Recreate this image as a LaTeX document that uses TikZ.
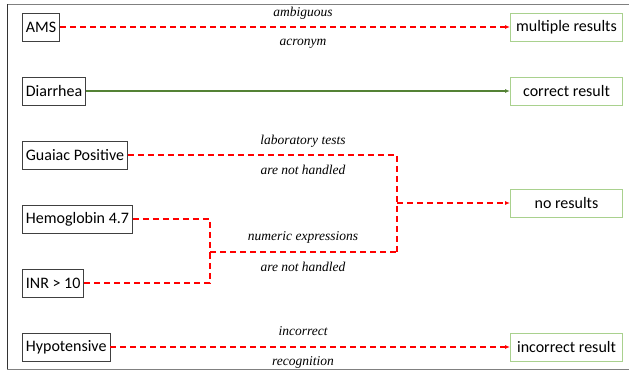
\documentclass[tikz,border=0pt]{standalone}
\usepackage{fontspec}
\setmainfont{Carlito}
\newfontfamily\lblfont{Liberation Serif}
\usetikzlibrary{arrows.meta}
\definecolor{rd}{HTML}{FF0000}
\definecolor{gl}{HTML}{548235}
\definecolor{gb}{HTML}{A9D18E}
\tikzset{
  srcbox/.style={draw=black!75, line width=0.8pt, minimum height=28pt, inner xsep=3.5pt, anchor=west, font=\fontsize{16}{18}\selectfont},
  resbox/.style={draw=gb, line width=1pt, minimum height=28pt, minimum width=112pt, anchor=west, font=\fontsize{16}{18}\selectfont},
  lbl/.style={font=\lblfont\itshape\fontsize{13.5}{15}\selectfont, inner sep=0pt},
  bad/.style={draw=rd, line width=1.6pt, dash pattern=on 6pt off 4pt},
  good/.style={draw=gl, line width=1.3pt},
  tip/.style={-{Latex[length=5pt,width=4pt]}},
}
\begin{document}
\begin{tikzpicture}[x=1pt,y=-1pt]
\useasboundingbox (0,0) rectangle (629,372);
\draw[gray, line width=1pt] (7,4) -- (629,4);
\draw[gray, line width=1pt] (7,369) -- (629,369);
\draw[black!80, line width=1pt] (7,4) -- (7,369);

\node[srcbox] (ams) at (22,27) {AMS};
\node[srcbox] (dia) at (22,91) {Diarrhea};
\node[srcbox] (gp) at (22,155) {Guaiac Positive};
\node[srcbox] (hb) at (22,219) {Hemoglobin 4.7};
\node[srcbox] (inr) at (22,283) {INR > 10};
\node[srcbox] (hy) at (22,347) {Hypotensive};

\node[resbox] (mr) at (510,27) {multiple results};
\node[resbox] (cr) at (510,91) {correct result};
\node[resbox] (nr) at (510,203) {no results};
\node[resbox] (ir) at (510,347) {incorrect result};

\coordinate (ja) at (210,252);
\coordinate (jb) at (397,252);
\coordinate (jc) at (397,203);

\draw[bad, tip] (ams.east) -- (mr.west);
\draw[good, tip] (dia.east) -- (cr.west);
\draw[bad] (gp.east) -| (jb);
\draw[bad] (hb.east) -| (ja);
\draw[bad] (inr.east) -| (ja);
\draw[bad] (ja) -- (jb);
\draw[bad, tip] (jc) -- (nr.west);
\draw[bad, tip] (hy.east) -- (ir.west);

\node[lbl] (l1) at (303,13) {ambiguous};
\node[lbl] (l2) at (303,44) {acronym};
\node[lbl] (l3) at (303,141) {laboratory tests};
\node[lbl] (l4) at (303,170) {are not handled};
\node[lbl] (l5) at (303,237) {numeric expressions};
\node[lbl] (l6) at (303,267) {are not handled};
\node[lbl] (l7) at (303,331) {incorrect};
\node[lbl] (l8) at (303,362) {recognition};
\end{tikzpicture}
\end{document}
